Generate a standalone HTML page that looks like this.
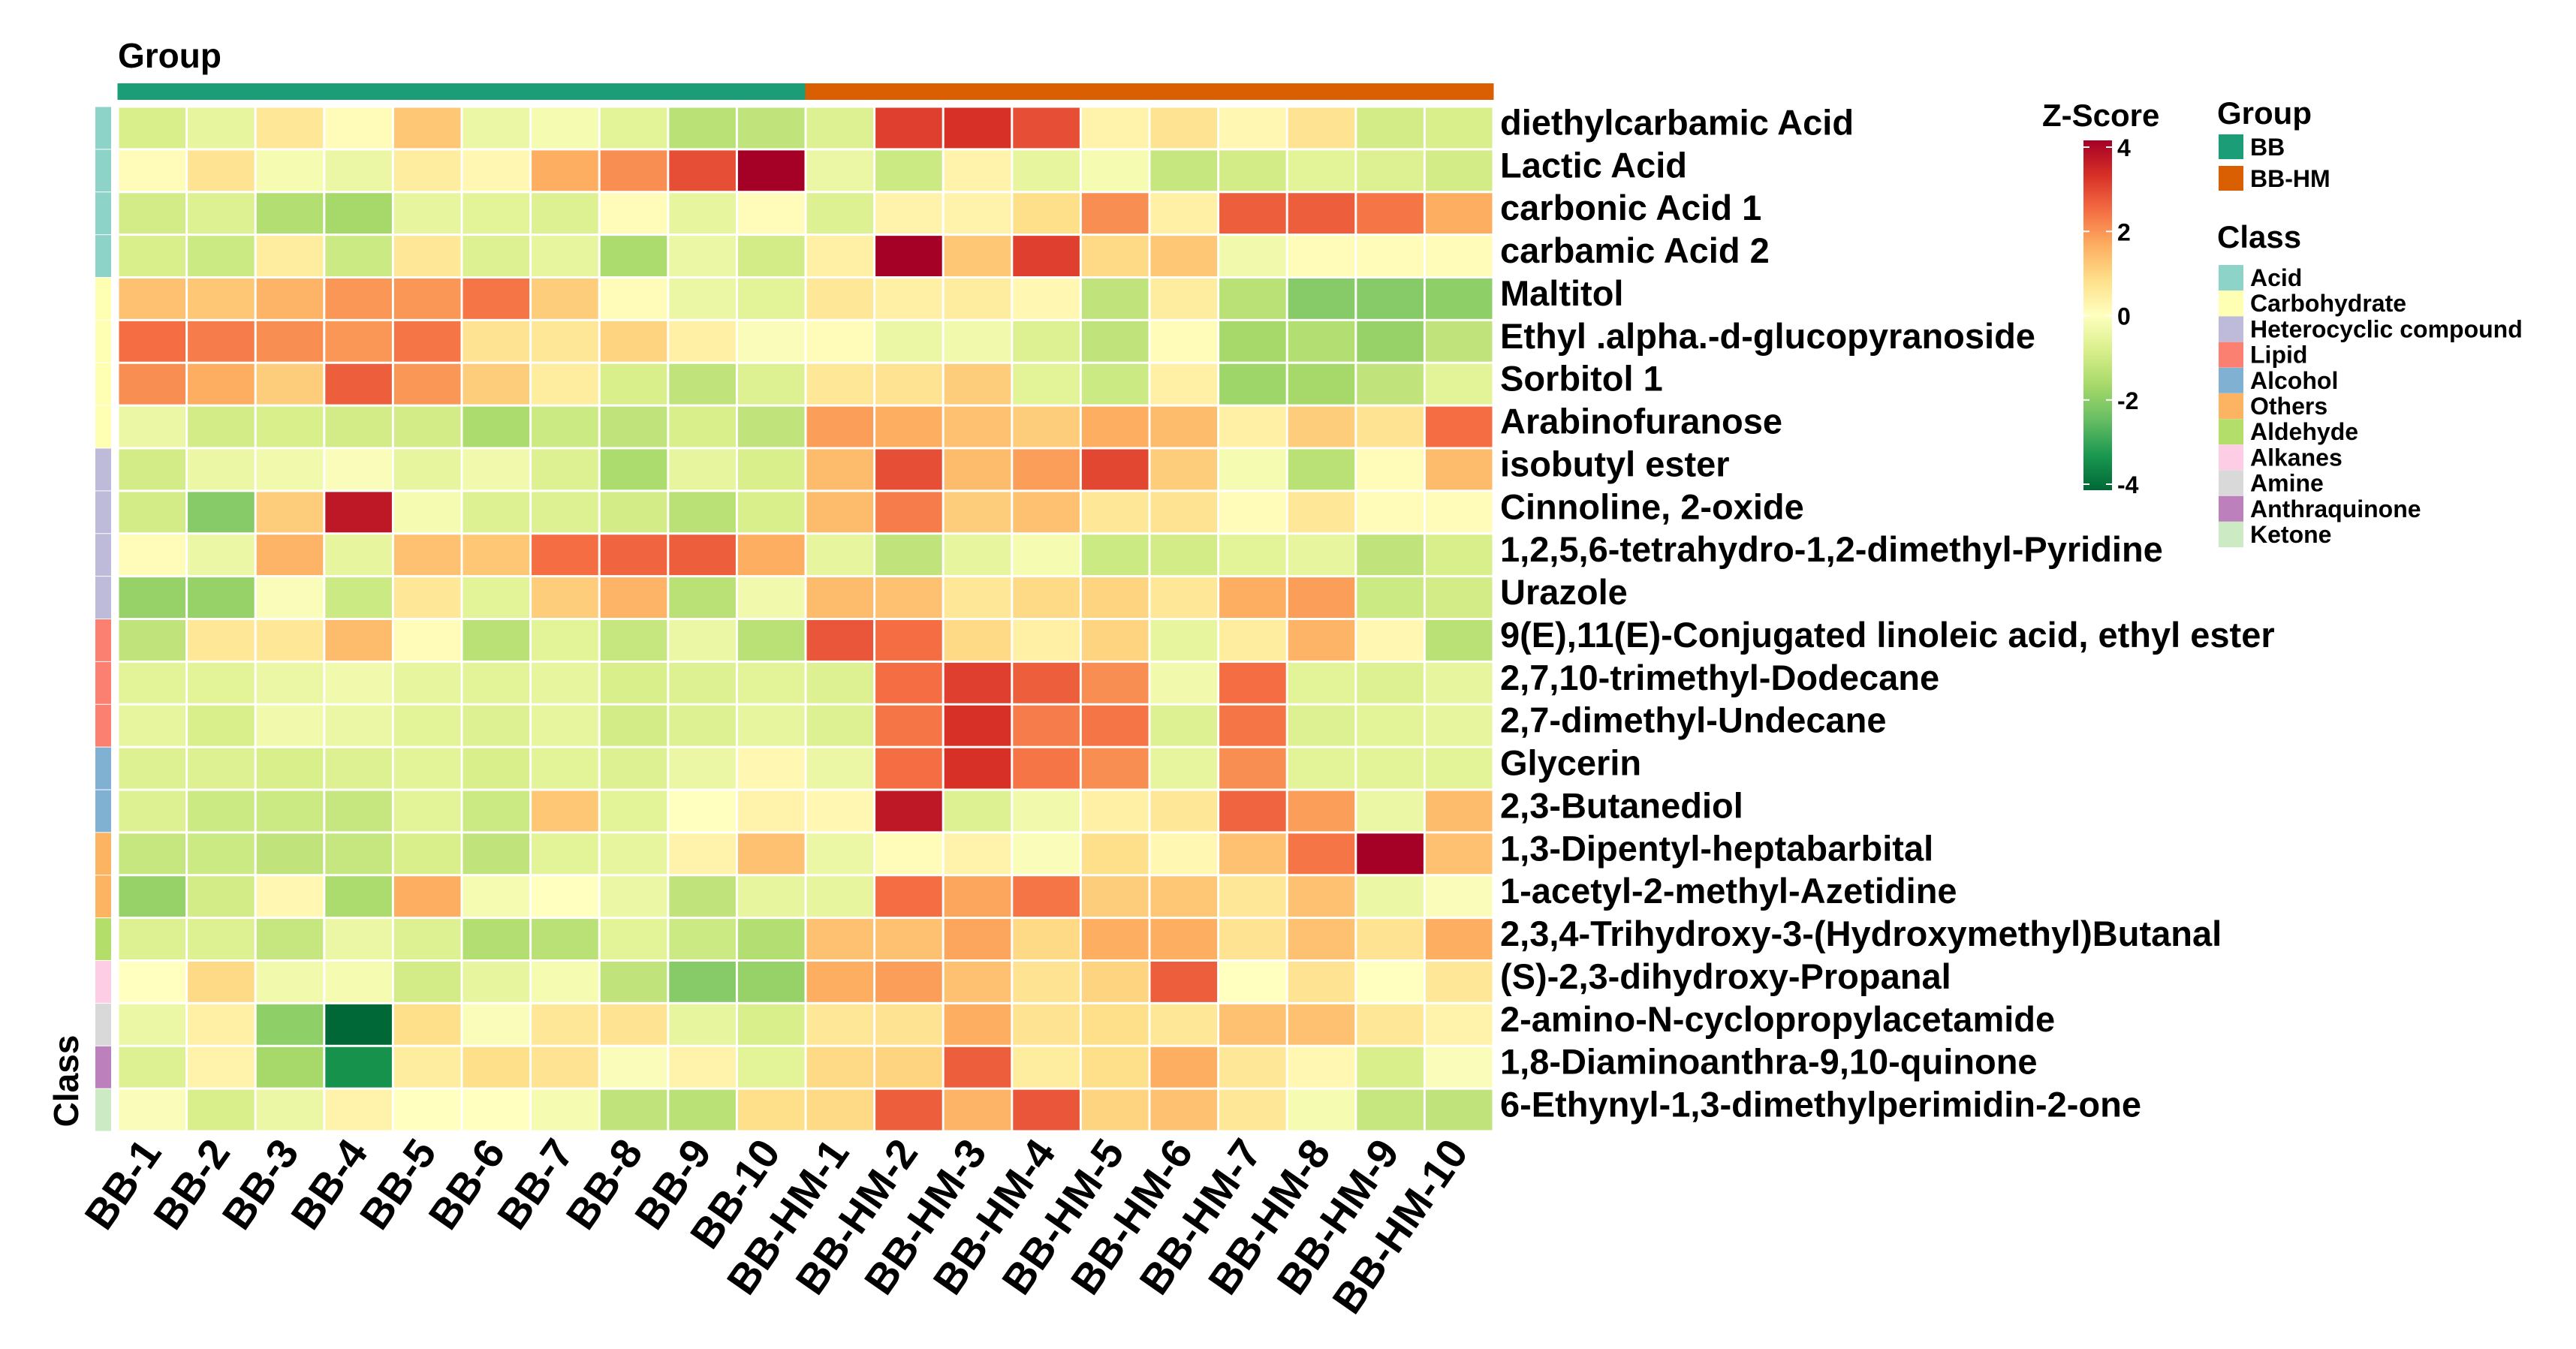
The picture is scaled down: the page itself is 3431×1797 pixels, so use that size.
<!DOCTYPE html>
<html><head><meta charset="utf-8">
<style>
html,body{margin:0;padding:0;background:#fff;}
svg{display:block;font-family:"Liberation Sans",Arial,sans-serif;font-weight:bold;}
</style></head>
<body>
<svg id="chart" width="3431" height="1797" viewBox="0 0 3431 1797" xmlns="http://www.w3.org/2000/svg">
<defs>
<linearGradient id="zgrad" x1="0" y1="1" x2="0" y2="0">
<stop offset="0" stop-color="#006837"/><stop offset="0.1" stop-color="#1a9850"/><stop offset="0.2" stop-color="#66bd63"/><stop offset="0.3" stop-color="#a6d96a"/><stop offset="0.4" stop-color="#d9ef8b"/><stop offset="0.5" stop-color="#ffffbf"/><stop offset="0.6" stop-color="#fee08b"/><stop offset="0.7" stop-color="#fdae61"/><stop offset="0.8" stop-color="#f46d43"/><stop offset="0.9" stop-color="#d73027"/><stop offset="1" stop-color="#a50026"/>
</linearGradient>
</defs>
<text x="157" y="90" font-size="46">Group</text>
<text transform="translate(104,1440) rotate(-90)" text-anchor="middle" font-size="46">Class</text>
<g id="cells"></g>
<g id="rowlabels"></g>
<g id="collabels"></g>
<g id="annot"></g>
<text x="2720" y="168" font-size="42">Z-Score</text>
<rect x="2775" y="187" width="38" height="466" fill="url(#zgrad)"/>
<g id="zticks" font-size="32"></g>
<text x="2953" y="165" font-size="42">Group</text>
<g id="grouplegend" font-size="32"></g>
<text x="2953" y="330" font-size="42">Class</text>
<g id="classlegend" font-size="32"></g>
</svg>
<script>
const samples = ["BB-1","BB-2","BB-3","BB-4","BB-5","BB-6","BB-7","BB-8","BB-9","BB-10","BB-HM-1","BB-HM-2","BB-HM-3","BB-HM-4","BB-HM-5","BB-HM-6","BB-HM-7","BB-HM-8","BB-HM-9","BB-HM-10"];
const sampleGroups = ["BB","BB","BB","BB","BB","BB","BB","BB","BB","BB","BB-HM","BB-HM","BB-HM","BB-HM","BB-HM","BB-HM","BB-HM","BB-HM","BB-HM","BB-HM"];
const metabolites = ["diethylcarbamic Acid","Lactic Acid","carbonic Acid 1","carbamic Acid 2","Maltitol","Ethyl .alpha.-d-glucopyranoside","Sorbitol 1","Arabinofuranose","isobutyl ester","Cinnoline, 2-oxide","1,2,5,6-tetrahydro-1,2-dimethyl-Pyridine","Urazole","9(E),11(E)-Conjugated linoleic acid, ethyl ester","2,7,10-trimethyl-Dodecane","2,7-dimethyl-Undecane","Glycerin","2,3-Butanediol","1,3-Dipentyl-heptabarbital","1-acetyl-2-methyl-Azetidine","2,3,4-Trihydroxy-3-(Hydroxymethyl)Butanal","(S)-2,3-dihydroxy-Propanal","2-amino-N-cyclopropylacetamide","1,8-Diaminoanthra-9,10-quinone","6-Ethynyl-1,3-dimethylperimidin-2-one"];
const metaboliteClass = ["Acid","Acid","Acid","Acid","Carbohydrate","Carbohydrate","Carbohydrate","Carbohydrate","Heterocyclic compound","Heterocyclic compound","Heterocyclic compound","Heterocyclic compound","Lipid","Lipid","Lipid","Alcohol","Alcohol","Others","Others","Aldehyde","Alkanes","Amine","Anthraquinone","Ketone"];
const classNames = ["Acid","Carbohydrate","Heterocyclic compound","Lipid","Alcohol","Others","Aldehyde","Alkanes","Amine","Anthraquinone","Ketone"];
const classColors = ["#8dd3c7","#ffffb3","#bebada","#fb8072","#80b1d3","#fdb462","#b3de69","#fccde5","#d9d9d9","#bc80bd","#ccebc5"];
const groupNames = ["BB","BB-HM"];
const groupColors = ["#1b9e77","#d95f02"];
const zTicks = [4,2,0,-2,-4];
const zValues = [
[-0.8,-0.5,0.6,0.1,1.2,-0.4,-0.2,-0.6,-1.3,-1.2,-0.7,3.0,3.2,2.8,0.3,0.7,0.2,0.7,-0.9,-0.8],
[0.1,0.7,-0.2,-0.4,0.5,0.2,1.6,2.0,2.8,4.0,-0.4,-1.0,0.3,-0.5,-0.2,-1.1,-0.9,-0.6,-0.7,-0.9],
[-0.9,-0.7,-1.4,-1.6,-0.5,-0.6,-0.7,0.1,-0.5,0.1,-0.7,0.3,0.3,0.8,2.0,0.4,2.6,2.6,2.3,1.6],
[-0.8,-1.0,0.5,-1.0,0.6,-0.7,-0.5,-1.5,-0.4,-0.9,0.4,4.0,1.2,3.0,0.9,1.2,-0.3,0.1,0.1,0.1],
[1.3,1.2,1.5,1.9,1.9,2.3,1.1,0.1,-0.4,-0.6,0.6,0.4,0.5,0.2,-1.2,0.5,-1.3,-2.0,-2.0,-1.9],
[2.4,2.2,2.0,1.9,2.3,0.7,0.6,1.0,0.4,-0.1,0.1,-0.4,-0.3,-0.7,-1.2,0.1,-1.6,-1.4,-1.8,-1.2],
[2.0,1.6,1.1,2.6,1.9,1.1,0.5,-0.8,-1.2,-0.7,0.6,0.7,1.1,-0.6,-1.0,0.4,-1.7,-1.6,-1.2,-0.6],
[-0.4,-0.9,-0.8,-0.9,-0.9,-1.5,-1.0,-1.2,-0.8,-1.2,1.8,1.6,1.3,1.1,1.6,1.4,0.4,1.1,0.7,2.4],
[-0.9,-0.4,-0.3,-0.1,-0.5,-0.3,-0.7,-1.5,-0.5,-0.8,1.4,2.8,1.4,1.8,2.9,1.1,-0.2,-1.3,0.1,1.4],
[-0.9,-2.0,1.1,3.6,-0.2,-0.7,-0.7,-0.9,-1.3,-0.8,1.4,2.2,1.1,1.3,0.6,0.7,0.1,0.6,0.1,0.1],
[0.1,-0.4,1.5,-0.5,1.3,1.2,2.4,2.5,2.6,1.6,-0.5,-1.2,-0.5,-0.2,-1.0,-0.9,-0.6,-0.5,-1.2,-0.8],
[-1.8,-1.8,-0.1,-1.0,0.6,-0.6,1.1,1.5,-1.3,-0.3,1.4,1.3,0.6,0.9,1.0,0.6,1.6,1.8,-1.0,-0.9],
[-1.2,0.6,0.6,1.4,0.1,-1.3,-0.6,-1.1,-0.4,-1.3,2.7,2.4,0.9,0.4,1.0,-0.5,0.5,1.5,0.2,-1.3],
[-0.6,-0.6,-0.4,-0.3,-0.5,-0.6,-0.5,-0.8,-0.7,-0.6,-0.7,2.4,3.0,2.6,2.0,-0.3,2.4,-0.6,-0.7,-0.5],
[-0.5,-0.8,-0.3,-0.4,-0.6,-0.7,-0.5,-0.9,-0.7,-0.5,-0.7,2.3,3.2,2.2,2.3,-0.7,2.3,-0.7,-0.6,-0.5],
[-0.7,-0.7,-0.8,-0.7,-0.6,-0.8,-0.6,-0.7,-0.4,0.2,-0.4,2.4,3.2,2.3,2.0,-0.5,2.0,-0.6,-0.6,-0.6],
[-0.7,-1.0,-1.0,-1.1,-0.6,-1.0,1.2,-0.6,0.0,0.3,0.2,3.6,-0.7,-0.3,0.4,0.6,2.5,1.8,-0.4,1.4],
[-1.1,-1.0,-1.2,-1.1,-0.8,-1.2,-0.6,-0.5,0.3,1.3,-0.4,0.1,0.3,-0.1,0.8,0.2,1.3,2.3,4.0,1.3],
[-1.8,-0.9,0.2,-1.5,1.6,-0.2,0.0,-0.4,-1.2,-0.5,-0.5,2.4,1.7,2.3,1.1,1.2,0.6,1.3,-0.4,-0.1],
[-0.7,-0.7,-1.1,-0.4,-0.7,-1.4,-1.3,-0.6,-1.0,-1.4,1.3,1.3,1.7,0.9,1.6,1.6,0.7,1.3,0.7,1.6],
[0.0,0.9,-0.3,-0.2,-0.9,-0.5,-0.2,-1.2,-2.0,-1.8,1.6,1.8,1.3,0.7,1.0,2.6,0.0,0.7,0.0,0.6],
[-0.4,0.4,-1.9,-4.0,0.8,-0.1,0.6,0.7,-0.5,-0.8,0.6,0.7,1.6,0.7,0.8,0.6,1.3,1.3,0.6,0.3],
[-0.7,0.3,-1.6,-3.3,0.5,0.8,0.7,-0.1,0.3,-0.6,0.9,1.0,2.6,0.5,0.8,1.6,0.6,0.2,-0.8,-0.1],
[-0.1,-0.8,-0.4,0.3,0.0,0.0,-0.2,-1.2,-1.3,0.8,0.9,2.6,1.5,2.7,1.0,1.3,0.6,-0.2,-1.1,-1.2]
];

const NS="http://www.w3.org/2000/svg";
const X0=157, X1=1989, Y0=142, Y1=1507;
const cw=(X1-X0)/samples.length, ch=(Y1-Y0)/metabolites.length;
const xPos=i=>X0+i*cw, yPos=j=>Y0+j*ch;
const zMin=-4,zMax=4, barTop=196, barBot=645;
const zY=v=>barBot-(v-zMin)/(zMax-zMin)*(barBot-barTop);
const stops=["#006837","#1a9850","#66bd63","#a6d96a","#d9ef8b","#ffffbf","#fee08b","#fdae61","#f46d43","#d73027","#a50026"];
function hex(h){return [parseInt(h.slice(1,3),16),parseInt(h.slice(3,5),16),parseInt(h.slice(5,7),16)];}
function color(v){
  let t=(Math.max(zMin,Math.min(zMax,v))-zMin)/(zMax-zMin)*(stops.length-1);
  let i=Math.min(Math.floor(t),stops.length-2), f=t-i;
  const a=hex(stops[i]), b=hex(stops[i+1]);
  return "rgb("+a.map((c,k)=>Math.round(c+(b[k]-c)*f)).join(",")+")";
}
function mk(tag,attrs,parent,text){const e=document.createElementNS(NS,tag);for(const k in attrs)e.setAttribute(k,attrs[k]);if(text!==undefined)e.textContent=text;parent.appendChild(e);return e;}

const cells=document.getElementById('cells');
zValues.forEach((row,j)=>row.forEach((v,i)=>{
  const r=mk('rect',{x:xPos(i)+1.5,y:yPos(j)+1.5,width:cw-3,height:ch-3,fill:color(v)},cells);
  
  
}));
const rl=document.getElementById('rowlabels');
metabolites.forEach((m,j)=>{
  const t=mk('text',{x:1998,y:yPos(j)+ch/2+9,'font-size':47},rl,m);
  
  
});
const cl=document.getElementById('collabels');
samples.forEach((s,i)=>{
  const cx=xPos(i)+cw/2+14;
  const t=mk('text',{transform:`translate(${cx},1535) rotate(-55)`,'text-anchor':'end','font-size':56},cl,s);
  
  
});
const an=document.getElementById('annot');
sampleGroups.forEach((g,i)=>{
  const r=mk('rect',{x:xPos(i)-0.5,y:111,width:cw+1,height:22,fill:groupColors[groupNames.indexOf(g)]},an);
  
  
});
metaboliteClass.forEach((c,j)=>{
  const r=mk('rect',{x:127,y:yPos(j)+0.5,width:21,height:ch-1,fill:classColors[classNames.indexOf(c)]},an);
  
  
});
const zt=document.getElementById('zticks');
zTicks.forEach(v=>{
  const y=zY(v);
  const l=mk('line',{x1:2775,x2:2783,y1:y,y2:y,stroke:'#fff','stroke-width':2},zt);
  
  
  const l2=mk('line',{x1:2805,x2:2813,y1:y,y2:y,stroke:'#fff','stroke-width':2},zt);
  
  
  const t=mk('text',{x:2820,y:y+12},zt,String(v));
  
  
});
const gl=document.getElementById('grouplegend');
groupNames.forEach((g,k)=>{
  const y=179+k*42;
  const r=mk('rect',{x:2955,y:y,width:33,height:33,fill:groupColors[k]},gl);
  
  
  const t=mk('text',{x:2997,y:y+28},gl,g);
  
  
});
const cg=document.getElementById('classlegend');
classNames.forEach((c,k)=>{
  const y=353+k*34.2;
  const r=mk('rect',{x:2955,y:y,width:33,height:34,fill:classColors[k]},cg);
  
  
  const t=mk('text',{x:2997,y:y+28},cg,c);
  
  
});
</script>
</body></html>
